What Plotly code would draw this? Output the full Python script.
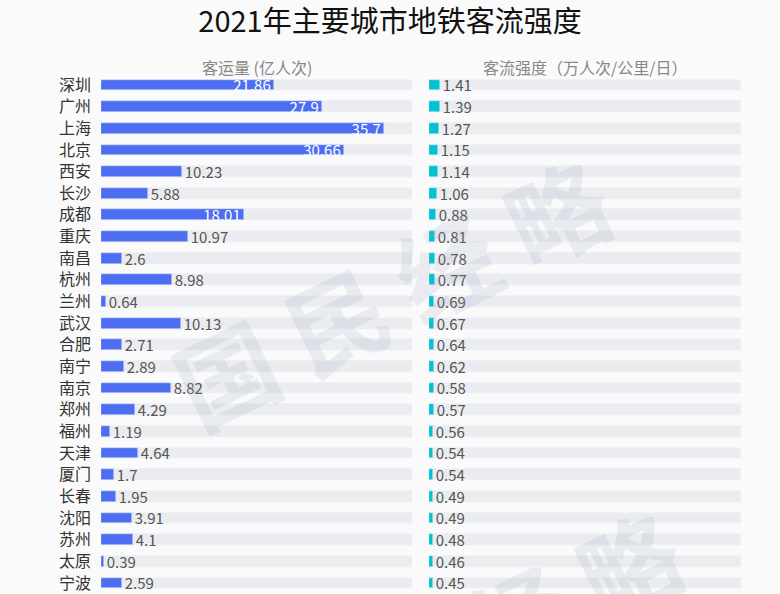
import plotly.graph_objects as go

cities = ["深圳", "广州", "上海", "北京", "西安", "长沙", "成都", "重庆", "南昌", "杭州",
          "兰州", "武汉", "合肥", "南宁", "南京", "郑州", "福州", "天津", "厦门", "长春",
          "沈阳", "苏州", "太原", "宁波"]
ridership = [21.86, 27.9, 35.7, 30.66, 10.23, 5.88, 18.01, 10.97, 2.6, 8.98,
             0.64, 10.13, 2.71, 2.89, 8.82, 4.29, 1.19, 4.64, 1.7, 1.95,
             3.91, 4.1, 0.39, 2.59]
intensity = [1.41, 1.39, 1.27, 1.15, 1.14, 1.06, 0.88, 0.81, 0.78, 0.77,
             0.69, 0.67, 0.64, 0.62, 0.58, 0.57, 0.56, 0.54, 0.54, 0.49,
             0.49, 0.48, 0.46, 0.45]

title = "2021年主要城市地铁客流强度"
left_title = "客运量 (亿人次)"
right_title = "客流强度（万人次/公里/日）"

FONT = "Noto Sans CJK SC"
W, H = 780, 594
MT = 75
n = len(cities)
idx = list(range(n))
full = max(ridership) * 1.1
bg_vals = [full] * n

BLUE = "#4e6ef2"
CYAN = "#00c2d3"
GREY_BAR = "#ebecef"
LABEL = "#555555"

fig = go.Figure()

# background bars
fig.add_trace(go.Bar(y=idx, x=bg_vals, orientation="h", marker_color=GREY_BAR,
                     width=0.5, hoverinfo="skip", showlegend=False,
                     xaxis="x", yaxis="y"))
fig.add_trace(go.Bar(y=idx, x=bg_vals, orientation="h", marker_color=GREY_BAR,
                     width=0.5, hoverinfo="skip", showlegend=False,
                     xaxis="x2", yaxis="y"))

positions = ["inside" if v >= 15 else "outside" for v in ridership]
fig.add_trace(go.Bar(y=idx, x=ridership, orientation="h", marker_color=BLUE,
                     width=0.5, text=[f"{v:g}" for v in ridership],
                     textposition=positions, insidetextanchor="end",
                     constraintext="none",
                     insidetextfont=dict(color="white", size=15, family=FONT),
                     outsidetextfont=dict(color=LABEL, size=15, family=FONT),
                     cliponaxis=False, showlegend=False,
                     xaxis="x", yaxis="y"))
fig.add_trace(go.Bar(y=idx, x=intensity, orientation="h", marker_color=CYAN,
                     width=0.5, text=[f"{v:g}" for v in intensity],
                     textposition="outside", constraintext="none",
                     outsidetextfont=dict(color=LABEL, size=15, family=FONT),
                     cliponaxis=False, showlegend=False,
                     xaxis="x2", yaxis="y"))

ytop = -0.46
ybot = ytop + (H - MT) / 21.65

fig.update_layout(
    width=W, height=H,
    margin=dict(l=0, r=0, t=MT, b=0),
    paper_bgcolor="#fafafa", plot_bgcolor="#fafafa",
    barmode="overlay", bargap=0,
    font=dict(family=FONT, color=LABEL),
    title=dict(text=title, x=0.5, xanchor="center", y=1 - 22 / H, yanchor="middle",
               font=dict(size=29, color="#111111", family=FONT)),
    xaxis=dict(domain=[101 / W, 412 / W], range=[0, full], visible=False),
    xaxis2=dict(domain=[429 / W, 741 / W], range=[0, full], visible=False,
                anchor="y"),
    yaxis=dict(range=[ybot, ytop], tickvals=idx, ticktext=cities,
               showgrid=False, zeroline=False, showline=False,
               ticks="", ticklabelstandoff=9,
               tickfont=dict(size=16, color="#333333", family=FONT)),
)

sub_y = (H - 67) / (H - MT)
fig.add_annotation(text=left_title, xref="paper", yref="paper",
                   x=(101 + 412) / 2 / W, y=sub_y, showarrow=False,
                   xanchor="center", yanchor="middle",
                   font=dict(size=16, color="#888888", family=FONT))
fig.add_annotation(text=right_title, xref="paper", yref="paper",
                   x=(429 + 741) / 2 / W, y=sub_y, showarrow=False,
                   xanchor="center", yanchor="middle",
                   font=dict(size=16, color="#888888", family=FONT))

# watermark
for cx, cy in [(390, 290), (462, 642)]:
    fig.add_annotation(text="<b>国 民 经 略</b>", xref="paper", yref="paper",
                       x=cx / W, y=(H - cy) / (H - MT), showarrow=False,
                       xanchor="center", yanchor="middle", textangle=-26,
                       font=dict(size=100, color="rgba(140,155,185,0.15)", family=FONT))

fig.write_html("out.html")
